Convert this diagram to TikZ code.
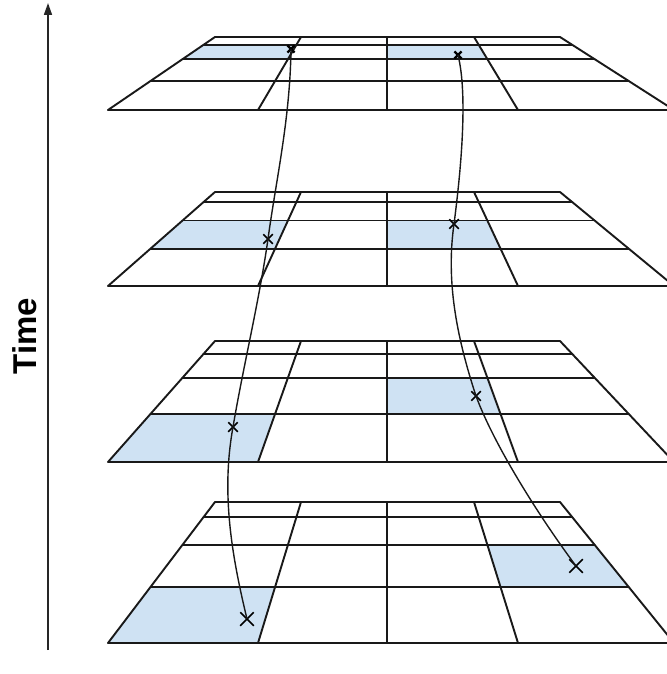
\documentclass[tikz,border=0pt]{standalone}
\usepackage{fontspec}
\setmainfont{Liberation Sans}
\usetikzlibrary{arrows.meta,shapes.misc}
\definecolor{cellblue}{HTML}{CFE2F3}
\begin{document}
\begin{tikzpicture}[x=1pt,y=-1pt,
  gridline/.style={line width=1.9pt, line cap=round, line join=round, draw=black!90},
  cell/.style={fill=cellblue},
  track/.style={line width=1.4pt, draw=black!90},
  xmark/.style={cross out, draw, line width=1.5pt, inner sep=0pt, minimum size=#1},
  axis/.style={line width=1.6pt, draw=black!85, -{Triangle[length=12pt,width=8pt]}},
]
\useasboundingbox (0,0) rectangle (666,674);

% corner points of the four perspective grids: grid-column-row
\foreach \g/\T/\B in {a/37/110, b/192/286, c/341/462, d/502/643} {
  \foreach \i/\xt/\xb in {0/215/108, 1/301/258, 2/387/387, 3/474/518, 4/560/674} {
    \foreach \j/\f in {0/0, 1/0.106, 2/0.303, 3/0.603, 4/1} {
      \coordinate (\g-\i-\j) at ({\xt+\f*(\xb-\xt)}, {\T+\f*(\B-\T)});
    }
  }
}

% highlighted cells
\foreach \g/\i/\j in {a/0/1, a/2/1, b/0/2, b/2/2, c/0/3, c/2/2, d/0/3, d/3/2} {
  \pgfmathtruncatemacro\ii{\i+1}
  \pgfmathtruncatemacro\jj{\j+1}
  \fill[cell] (\g-\i-\j) -- (\g-\ii-\j) -- (\g-\ii-\jj) -- (\g-\i-\jj) -- cycle;
}

% grid lines
\foreach \g in {a,b,c,d} {
  \foreach \k in {0,...,4} {
    \draw[gridline] (\g-0-\k) -- (\g-4-\k);
    \draw[gridline] (\g-\k-0) -- (\g-\k-4);
  }
}

% positions of the two tracked objects at each time step
\node[xmark=5pt, line width=2.2pt] (l1) at (291,49) {};
\node[xmark=8pt] (l2) at (268,239) {};
\node[xmark=8pt] (l3) at (233,427) {};
\node[xmark=12pt] (l4) at (247,619) {};
\node[xmark=5pt, line width=2.2pt] (r1) at (458,55) {};
\node[xmark=8pt] (r2) at (454,224) {};
\node[xmark=8pt] (r3) at (476,396) {};
\node[xmark=12pt] (r4) at (576,566) {};

% trajectories
\draw[track] (l1.center) .. controls (290,120) and (276,180) .. (l2.center)
  .. controls (259,302) and (243.5,365) .. (l3.center)
  .. controls (221,493) and (231.6,555) .. (l4.center);
\draw[track] (r1.center) .. controls (468,95) and (461,170) .. (r2.center)
  .. controls (446,280) and (456,335) .. (r3.center)
  .. controls (496,450) and (546,526) .. (r4.center);

% time axis
\coordinate (tbot) at (48,650);
\coordinate (ttop) at (48,3);
\draw[axis] (tbot) -- (ttop);
\node[rotate=90, font=\fontsize{33}{33}\selectfont\bfseries] (time) at (25,336) {Time};
\end{tikzpicture}
\end{document}
